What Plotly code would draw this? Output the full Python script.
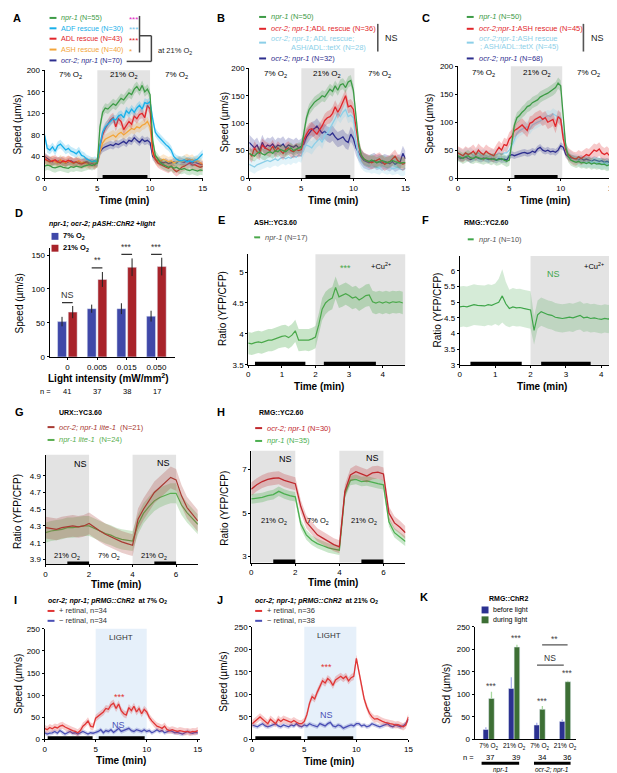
import plotly.graph_objects as go

W, H = 617, 773
FONT = "Liberation Sans, Arial, sans-serif"

# ---------------- data ----------------
t15 = [i * 0.25 for i in range(61)]      # 0..15 min
t7 = [i * 0.25 for i in range(29)]       # 0..7 min
tE = [i * 0.1 for i in range(47)]        # 0..4.6 min
tF = [i * 0.1 for i in range(44)]        # 0..4.3 min

# A
A_npr1 = [22, 24, 23, 20, 19, 21, 22, 20, 19, 18, 21, 20, 22, 21, 20, 22, 24, 25, 23, 26, 28,
          95, 122, 130, 128, 133, 138, 135, 142, 148, 145, 152, 158, 155, 165, 170, 162, 172, 160, 165, 155,
          70, 42, 35, 28, 25, 22, 20, 22, 18, 20, 17, 16, 18, 15, 14, 16, 14, 13, 15, 14]
A_adf = [79, 55, 52, 58, 50, 60, 63, 58, 52, 55, 50, 48, 45, 50, 42, 40, 35, 33, 30, 32, 30,
         60, 85, 95, 100, 105, 110, 108, 115, 118, 112, 125, 120, 128, 122, 130, 135, 128, 140, 138, 142,
         110, 85, 78, 72, 68, 62, 58, 52, 40, 35, 33, 32, 34, 30, 32, 30, 33, 35, 40, 45]
A_adl = [35, 33, 30, 32, 34, 30, 28, 32, 30, 33, 31, 28, 30, 27, 26, 28, 30, 25, 27, 24, 30,
         60, 80, 92, 100, 108, 112, 95, 110, 105, 90, 98, 105, 100, 115, 110, 118, 120, 112, 135, 128,
         50, 35, 28, 25, 22, 20, 18, 22, 16, 12, 15, 20, 22, 25, 28, 24, 25, 22, 20, 22]
A_ash = [38, 32, 30, 33, 30, 28, 34, 30, 28, 32, 30, 27, 30, 32, 28, 30, 26, 28, 30, 27, 28,
         48, 65, 72, 75, 78, 80, 76, 82, 85, 80, 84, 88, 92, 90, 95, 93, 98, 100, 105, 95,
         45, 35, 30, 32, 35, 33, 30, 32, 28, 30, 32, 30, 34, 36, 33, 35, 30, 32, 28, 25]
A_ocr2 = [40, 36, 33, 30, 32, 31, 33, 30, 28, 30, 32, 29, 30, 31, 28, 29, 30, 28, 29, 27, 28,
          48, 55, 58, 60, 62, 60, 64, 62, 65, 68, 64, 70, 68, 75, 70, 66, 72, 68, 70, 66,
          40, 35, 32, 30, 28, 30, 27, 28, 30, 28, 32, 30, 29, 32, 30, 28, 30, 27, 26, 25]
A_sem = [9, 8, 9, 9, 7]

# B
B_npr1 = [45, 42, 40, 45, 48, 44, 42, 46, 48, 45, 50, 48, 52, 50, 48, 52, 55, 50, 52, 55, 55,
          80, 110, 125, 132, 138, 142, 145, 150, 148, 155, 162, 158, 168, 160, 170, 172, 165, 175, 178, 160,
          110, 65, 42, 35, 32, 30, 33, 30, 28, 30, 32, 30, 28, 30, 32, 30, 28, 27, 28, 28]
B_adl = [45, 40, 55, 48, 45, 60, 55, 52, 50, 58, 48, 55, 50, 45, 52, 55, 50, 48, 52, 50, 52,
         70, 80, 88, 90, 85, 80, 88, 95, 105, 110, 112, 118, 130, 120, 128, 138, 150, 130, 132, 125,
         90, 60, 42, 35, 32, 30, 28, 30, 32, 35, 30, 25, 28, 30, 35, 40, 32, 28, 25, 28]
B_tetx = [25, 22, 20, 24, 26, 28, 30, 32, 30, 33, 35, 32, 36, 38, 35, 38, 36, 40, 38, 42, 40,
          55, 60, 58, 55, 62, 68, 72, 65, 78, 82, 90, 100, 108, 118, 112, 120, 125, 112, 115, 110,
          65, 40, 30, 25, 22, 22, 20, 21, 20, 18, 22, 20, 18, 20, 17, 18, 20, 16, 15, 18]
B_ocr2 = [65, 60, 55, 60, 50, 65, 55, 60, 58, 62, 55, 60, 58, 62, 55, 60, 58, 56, 60, 55, 58,
          62, 75, 82, 88, 90, 95, 88, 82, 85, 80, 78, 82, 75, 70, 72, 75, 68, 65, 80, 72,
          55, 45, 38, 32, 30, 28, 30, 32, 28, 30, 27, 30, 28, 26, 30, 25, 28, 30, 45, 35]
B_sem = [10, 12, 12, 14]

# C
C_npr1 = [40, 38, 35, 38, 40, 36, 35, 38, 36, 35, 34, 36, 35, 33, 35, 32, 33, 35, 32, 30, 32,
          60, 95, 108, 112, 118, 122, 128, 130, 135, 138, 140, 145, 148, 150, 152, 155, 158, 162, 170, 165,
          110, 55, 38, 32, 30, 28, 30, 27, 28, 26, 28, 25, 27, 25, 26, 24, 25, 22, 24, 22]
C_ash = [45, 42, 40, 45, 42, 44, 48, 42, 50, 45, 42, 48, 44, 42, 40, 48, 55, 50, 60, 58, 70,
         75, 85, 88, 92, 95, 90, 85, 98, 100, 105, 108, 110, 105, 108, 100, 102, 105, 92, 110, 105,
         70, 50, 42, 38, 35, 34, 38, 35, 38, 42, 40, 45, 50, 48, 52, 45, 42, 45, 40, 38]
C_tetx = [45, 42, 40, 45, 42, 45, 40, 42, 45, 40, 42, 40, 38, 42, 40, 42, 45, 42, 45, 45, 50,
          58, 70, 80, 85, 88, 90, 92, 88, 95, 98, 100, 102, 105, 108, 112, 110, 115, 112, 110, 108,
          80, 55, 42, 38, 35, 33, 32, 30, 30, 28, 30, 28, 27, 28, 26, 25, 27, 25, 24, 25]
C_ocr2 = [38, 35, 36, 38, 35, 33, 35, 38, 35, 34, 36, 35, 33, 35, 34, 32, 35, 33, 34, 32, 40,
          42, 40, 42, 44, 45, 46, 44, 45, 48, 46, 52, 55, 50, 48, 50, 47, 48, 46, 50, 58,
          55, 42, 38, 36, 35, 34, 33, 35, 32, 34, 32, 30, 33, 32, 30, 31, 28, 30, 28, 26]
C_sem = [10, 12, 10, 6]

# D
D_cats = ["0", "0.005", "0.015", "0.050"]
D_n = [41, 37, 38, 17]
D_low = [52, 71, 71, 60]
D_high = [66, 114, 132, 133]
D_low_err = [7, 6, 8, 8]
D_high_err = [9, 11, 13, 13]

# E
E_npr1 = [3.85, 3.84, 3.86, 3.87, 3.86, 3.88, 3.90, 3.90, 3.92, 3.95,
          3.96, 3.97, 3.94, 3.98, 4.05, 3.90, 3.90, 3.91, 3.90, 3.92,
          3.95, 4.15, 4.40, 4.50, 4.55, 4.58, 4.75, 4.60, 4.62, 4.65,
          4.62, 4.58, 4.60, 4.55, 4.58, 4.62, 4.63, 4.52, 4.50, 4.52,
          4.50, 4.52, 4.50, 4.52, 4.51, 4.52, 4.50]
E_sem = 0.18

# F
F_npr1 = [4.85, 4.87, 4.85, 4.88, 4.92, 4.90, 4.90, 4.88, 4.92, 4.90,
          4.95, 5.00, 5.20, 4.95, 4.80, 4.85, 4.82, 4.83, 4.80, 4.78,
          4.75, 4.10, 4.60, 4.70, 4.65, 4.60, 4.58, 4.52, 4.50, 4.48,
          4.50, 4.52, 4.50, 4.55, 4.58, 4.50, 4.52, 4.48, 4.50, 4.47,
          4.45, 4.48, 4.46, 4.52]
F_sem = [0.65, 0.65, 0.65, 0.65, 0.65, 0.65, 0.65, 0.65, 0.65, 0.65,
         0.65, 0.75, 0.85, 0.70, 0.60, 0.60, 0.60, 0.60, 0.60, 0.60,
         0.60, 0.45, 0.45, 0.45, 0.45, 0.45, 0.45, 0.45, 0.45, 0.45,
         0.45, 0.45, 0.45, 0.45, 0.45, 0.45, 0.45, 0.45, 0.45, 0.45,
         0.45, 0.45, 0.45, 0.45]

# G
G_dbl = [4.28, 4.27, 4.26, 4.28, 4.29, 4.30, 4.29, 4.30, 4.33, 4.28, 4.24, 4.20, 4.17, 4.14, 4.11, 4.09, 4.07,
         4.38, 4.50, 4.60, 4.70, 4.76, 4.82, 4.88, 4.85, 4.66, 4.52, 4.44, 4.36]
G_npr1 = [4.22, 4.24, 4.25, 4.26, 4.28, 4.28, 4.29, 4.30, 4.30, 4.27, 4.24, 4.21, 4.19, 4.16, 4.14, 4.13, 4.12,
          4.32, 4.45, 4.53, 4.60, 4.64, 4.67, 4.69, 4.69, 4.55, 4.46, 4.39, 4.32]
G_sem = [0.13, 0.12]

# H
H_ocr2 = [6.10, 6.30, 6.45, 6.55, 6.60, 6.62, 6.50, 6.42, 6.35, 5.30, 4.60, 4.30, 4.00, 3.85, 3.70, 3.55, 3.45,
          6.00, 6.75, 6.90, 6.80, 6.70, 6.85, 6.88, 6.80, 5.00, 4.55, 4.35, 4.10]
H_npr1 = [5.65, 5.68, 5.72, 5.80, 5.85, 6.00, 5.88, 5.80, 5.75, 4.50, 4.00, 3.75, 3.60, 3.50, 3.40, 3.35, 3.30,
          5.90, 6.50, 6.55, 6.45, 6.48, 6.40, 6.35, 6.30, 4.60, 4.10, 3.90, 3.70]
H_sem = [0.3, 0.22]

# I
I_plus = [25, 22, 27, 24, 28, 26, 30, 32, 28, 25, 22, 20, 18, 15, 20, 30, 35, 42, 30, 28, 48,
          52, 58, 62, 70, 68, 78, 82, 70, 80, 65, 58, 55, 72, 65, 75, 62, 70, 58, 68, 62,
          50, 42, 35, 30, 28, 25, 30, 22, 20, 22, 20, 18, 20, 18, 17, 18, 16, 18, 17, 20]
I_minus = [15, 12, 14, 15, 18, 14, 20, 15, 12, 15, 18, 14, 15, 12, 15, 18, 15, 12, 15, 14, 16,
           18, 22, 15, 20, 18, 22, 16, 20, 25, 18, 20, 22, 25, 20, 18, 22, 20, 18, 22, 18,
           20, 15, 18, 22, 18, 20, 15, 18, 20, 18, 15, 16, 14, 12, 15, 18, 15, 14, 16, 15]

# J
J_plus = [35, 40, 45, 50, 45, 40, 35, 45, 40, 35, 45, 40, 45, 42, 40, 38, 42, 38, 35, 35, 40,
          55, 80, 95, 90, 105, 118, 130, 125, 135, 130, 120, 132, 136, 140, 135, 140, 130, 137, 140, 180,
          150, 115, 90, 72, 58, 50, 45, 46, 42, 40, 38, 36, 35, 34, 32, 33, 30, 28, 32, 50]
J_minus = [32, 30, 28, 32, 35, 30, 28, 30, 32, 35, 30, 28, 32, 30, 28, 32, 30, 35, 30, 28, 32,
           30, 35, 32, 30, 28, 35, 32, 30, 35, 38, 30, 28, 32, 30, 25, 28, 30, 32, 30, 35,
           35, 30, 32, 28, 30, 35, 32, 30, 28, 30, 32, 35, 30, 28, 32, 30, 28, 30, 35, 45]
IJ_sem = [8, 5]

# K
K_groups = ["7% O<sub>2</sub>", "21% O<sub>2</sub>", "7% O<sub>2</sub>", "21% O<sub>2</sub>"]
K_n = [37, 39, 34, 36]
K_before = [22, 113, 32, 40]
K_during = [91, 205, 67, 128]
K_before_err = [5, 25, 5, 4]
K_during_err = [15, 5, 7, 2]

for s in (A_npr1, A_adf, A_adl, A_ash, A_ocr2, B_npr1, B_adl, B_tetx, B_ocr2,
          C_npr1, C_ash, C_tetx, C_ocr2, I_plus, I_minus, J_plus, J_minus):
    assert len(s) == 61
assert len(E_npr1) == 47 and len(F_npr1) == 44 and len(F_sem) == 44
assert len(G_dbl) == len(G_npr1) == len(H_ocr2) == len(H_npr1) == 29

# ---------------- colours ----------------
GREEN = "#3d9b46"
CYAN = "#18b0ea"
RED = "#e1262b"
ORANGE = "#f3a53a"
NAVY = "#2d2e8e"
LBLUE = "#8ccfe8"
GRAY_BG = "#e3e3e3"
LIGHT_BG = "#e6f0fa"


def rgba(h, a):
    h = h.lstrip("#")
    return f"rgba({int(h[0:2], 16)},{int(h[2:4], 16)},{int(h[4:6], 16)},{a})"


fig = go.Figure()
shapes, annots = [], []


def refs(k):
    return ("x", "y") if k == 1 else (f"x{k}", f"y{k}")


def axes(k, xd, yd, xr, yr, xt, yt, xtext=None):
    sx = "" if k == 1 else str(k)
    base = dict(showline=True, linecolor="black", linewidth=1, ticks="outside", ticklen=2,
                tickcolor="black", showgrid=False, zeroline=False,
                tickfont=dict(size=8, color="black", family=FONT))
    fig.layout["xaxis" + sx] = dict(base, domain=[xd[0] / W, xd[1] / W], range=xr, tickvals=xt,
                                     ticktext=xtext, anchor="y" + sx)
    fig.layout["yaxis" + sx] = dict(base, domain=[1 - yd[1] / H, 1 - yd[0] / H], range=yr,
                                     tickvals=yt, anchor="x" + sx)


def trace(k, x, y, color, sem, width=1.3, alpha=0.25):
    xr, yr = refs(k)
    s = sem if isinstance(sem, list) else [sem] * len(y)
    up = [a + b for a, b in zip(y, s)]
    lo = [a - b for a, b in zip(y, s)]
    fig.add_trace(go.Scatter(x=list(x) + list(x)[::-1], y=up + lo[::-1], fill="toself",
                             fillcolor=rgba(color, alpha), line=dict(width=0), mode="lines",
                             hoverinfo="skip", showlegend=False, xaxis=xr, yaxis=yr))
    fig.add_trace(go.Scatter(x=x, y=y, mode="lines", line=dict(color=color, width=width),
                             showlegend=False, xaxis=xr, yaxis=yr))


def region(k, x0, x1, color=GRAY_BG):
    xr, yr = refs(k)
    shapes.append(dict(type="rect", xref=xr, yref=yr + " domain", x0=x0, x1=x1, y0=0, y1=1,
                       fillcolor=color, line_width=0, layer="below"))


def blackbar(k, x0, x1):
    xr, yr = refs(k)
    shapes.append(dict(type="line", xref=xr, yref=yr + " domain", x0=x0, x1=x1, y0=0.012, y1=0.012,
                       line=dict(color="black", width=3.5), layer="above"))


def dline(k, x0, x1, y0, y1, color="#444", width=1.2):
    xr, yr = refs(k)
    shapes.append(dict(type="line", xref=xr, yref=yr, x0=x0, x1=x1, y0=y0, y1=y1,
                       line=dict(color=color, width=width)))


def pline(x0, y0, x1, y1, color="#444", width=1.5):
    shapes.append(dict(type="line", xref="paper", yref="paper", x0=x0 / W, x1=x1 / W,
                       y0=1 - y0 / H, y1=1 - y1 / H, line=dict(color=color, width=width)))


def ptxt(x, y, text, size=7.5, color="black", xanchor="left", angle=0):
    annots.append(dict(x=x / W, y=1 - y / H, xref="paper", yref="paper", text=text, showarrow=False,
                       xanchor=xanchor, yanchor="middle", textangle=angle,
                       font=dict(size=size, color=color, family=FONT)))


def dtxt(k, x, y, text, size=8, color="black", yanchor="middle"):
    xr, yr = refs(k)
    annots.append(dict(x=x, y=y, xref=xr, yref=yr, text=text, showarrow=False,
                       xanchor="center", yanchor=yanchor, font=dict(size=size, color=color, family=FONT)))


def leg(x, y, color, text, tcolor=None, seg=7, lw=2, size=7.5):
    pline(x, y, x + seg, y, color, lw)
    ptxt(x + seg + 3, y, text, size, tcolor or color)


def square(x, y, color, text, size=7.5):
    shapes.append(dict(type="rect", xref="paper", yref="paper", x0=x / W, x1=(x + 7) / W,
                       y0=1 - (y + 3.5) / H, y1=1 - (y - 3.5) / H, fillcolor=color, line_width=0))
    ptxt(x + 10, y, text, size)


def ytitle(x, y, text):
    ptxt(x, y, text, 10, xanchor="center", angle=-90)


def xtitle(x, y, text, size=10):
    ptxt(x, y, "<b>" + text + "</b>", size, xanchor="center")


O2 = "O<sub>2</sub>"

# ---------------- A ----------------
axes(1, (35, 195), (59, 168), [0, 15], [0, 200], [0, 5, 10, 15], [0, 40, 80, 120, 160, 200])
region(1, 5, 10)
for ser, col, s in zip([A_ocr2, A_ash, A_adl, A_adf, A_npr1], [NAVY, ORANGE, RED, CYAN, GREEN],
                       [A_sem[4], A_sem[3], A_sem[2], A_sem[1], A_sem[0]]):
    trace(1, t15, ser, col, s)
blackbar(1, 5.5, 9.75)
for xx, lab in [(2.5, "7% " + O2), (7.5, "21% " + O2), (12.5, "7% " + O2)]:
    dtxt(1, xx, 191, lab, 8)
rows = [6, 16.5, 27, 38, 49]
A_leg = [("<i>npr-1</i> (N=55)", GREEN), ("ADF rescue (N=30)", CYAN), ("ADL rescue (N=43)", RED),
         ("ASH rescue (N=40)", ORANGE), ("<i>ocr-2; npr-1</i> (N=70)", NAVY)]
for r, (tx, col) in zip(rows, A_leg):
    leg(40, r, col, tx, size=7.2)
for r, st, col in zip(rows, ["***", "***", "***", "*"], ["#e01fc4", "#6fc3ea", RED, ORANGE]):
    ptxt(118, r + 1.5, st, 8, col)
pline(131, 4, 131, 41)
pline(131, 24, 143, 24)
pline(143, 24, 143, 50)
pline(118, 50, 143, 50)
ptxt(148, 39, "at 21% " + O2, 7.5, "#222")
ytitle(8, 114, "Speed (µm/s)")
xtitle(115, 191, "Time (min)")
ptxt(1, 6, "<b>A</b>", 11)

# ---------------- B ----------------
axes(2, (242, 400), (57, 168), [0, 15], [0, 200], [0, 5, 10, 15], [0, 50, 100, 150, 200])
region(2, 5, 10.1)
for ser, col, s in zip([B_ocr2, B_tetx, B_adl, B_npr1], [NAVY, LBLUE, RED, GREEN],
                       [B_sem[3], B_sem[2], B_sem[1], B_sem[0]]):
    trace(2, t15, ser, col, s)
blackbar(2, 5.4, 9.7)
for xx, lab in [(2.5, "7% " + O2), (7.5, "21% " + O2), (12.5, "7% " + O2)]:
    dtxt(2, xx, 190, lab, 8)
leg(252, 5, GREEN, "<i>npr-1</i> (N=50)")
leg(252, 17, RED, "<i>ocr-2; npr-1;</i>ADL rescue (N=36)")
pline(252, 31, 259, 31, LBLUE, 2)
ptxt(262, 27, "<i>ocr-2; npr-1;</i> ADL rescue;", 7.5, LBLUE)
ptxt(282, 36, "ASH/ADL::tetX (N=28)", 7.5, LBLUE)
leg(252, 47, NAVY, "<i>ocr-2; npr-1</i> (N=32)")
pline(372, 12, 372, 40, "#555", 1.6)
ptxt(377, 26, "NS", 9, "#222")
ytitle(217, 112, "Speed (µm/s)")
xtitle(327, 191, "Time (min)")
ptxt(207, 6, "<b>B</b>", 11)

# ---------------- C ----------------
axes(3, (453, 609), (55, 168), [0, 15], [0, 200], [0, 5, 10, 15], [0, 50, 100, 150, 200])
region(3, 5.15, 10.15)
for ser, col, s in zip([C_ocr2, C_tetx, C_ash, C_npr1], [NAVY, LBLUE, RED, GREEN],
                       [C_sem[3], C_sem[2], C_sem[1], C_sem[0]]):
    trace(3, t15, ser, col, s)
blackbar(3, 5.5, 9.7)
for xx, lab in [(2.5, "7% " + O2), (7.7, "21% " + O2), (12.7, "7% " + O2)]:
    dtxt(3, xx, 188, lab, 8)
leg(462, 5, GREEN, "<i>npr-1</i> (N=50)")
leg(462, 17, RED, "<i>ocr-2;npr-1</i>:ASH rescue (N=45)")
pline(462, 31, 469, 31, LBLUE, 2)
ptxt(472, 27, "<i>ocr-2;npr-1</i>:ASH rescue", 7.5, LBLUE)
ptxt(473, 35, "; ASH/ADL::tetX (N=45)", 7.5, LBLUE)
leg(462, 47, NAVY, "<i>ocr-2; npr-1</i> (N=68)")
pline(580, 12, 580, 40, "#555", 1.6)
ptxt(586, 26, "NS", 9, "#222")
ytitle(425, 113, "Speed (µm/s)")
xtitle(541, 191, "Time (min)")
ptxt(415, 6, "<b>C</b>", 11)

# ---------------- D ----------------
D_x = list(range(len(D_cats)))
axes(4, (40, 167), (239, 349), [-0.6, 3.63], [0, 160], D_x, [0, 50, 100, 150], D_cats)
fig.add_trace(go.Bar(x=D_x, y=D_low, width=0.3, offset=-0.33, marker_color="#3f48a8",
                     error_y=dict(type="data", array=D_low_err, color="#222", thickness=1, width=0),
                     showlegend=False, xaxis="x4", yaxis="y4"))
fig.add_trace(go.Bar(x=D_x, y=D_high, width=0.3, offset=0.03, marker_color="#a8232a",
                     error_y=dict(type="data", array=D_high_err, color="#222", thickness=1, width=0),
                     showlegend=False, xaxis="x4", yaxis="y4"))
for i, ly, st in [(0, 80, "NS"), (1, 131, "**"), (2, 151, "***"), (3, 151, "***")]:
    dline(4, i - 0.18, i + 0.18, ly, ly, "#333", 1.3)
    dtxt(4, i, ly + 1, st, 9 if st == "NS" else 8.5, "#333", "bottom")
ptxt(37, 214, "<b><i>npr-1; ocr-2; pASH::ChR2 +light</i></b>", 7)
square(42, 227, "#3f48a8", "<b>7% " + O2 + "</b>", 7.5)
square(42, 239, "#a8232a", "<b>21% " + O2 + "</b>", 7.5)
ytitle(10, 295, "Speed (µm/s)")
xtitle(100, 370, "Light intensity (mW/mm<sup>2</sup>)")
ptxt(28, 384, "n = ", 7.5)
for i, n in enumerate(D_n):
    ptxt(58 + i * 30.3, 384, str(n), 7.5, xanchor="center")
ptxt(3, 203, "<b>D</b>", 11)

# ---------------- E ----------------
axes(5, (241, 400), (245, 357), [0, 4.68], [3.5, 5.29], [0, 1, 2, 3, 4], [3.5, 4, 4.5, 5])
region(5, 2, 4.68)
trace(5, tE, E_npr1, "#4aa84a", E_sem, 1.2, 0.3)
blackbar(5, 0.2, 1.7)
blackbar(5, 2.25, 3.8)
dtxt(5, 2.9, 5.06, "***", 9, "#4aa84a")
dtxt(5, 3.95, 5.1, "+Cu<sup>2+</sup>", 7.5)
ptxt(245, 213, "<b>ASH::YC3.60</b>", 7)
leg(247, 228, "#4aa84a", "<i>npr-1</i> (N=17)", "#555", 6)
ytitle(215, 300, "Ratio (YFP/CFP)")
xtitle(313, 379, "Time (min)")
ptxt(208, 210, "<b>E</b>", 11)

# ---------------- F ----------------
axes(6, (455, 612), (247, 357), [0, 4.39], [3, 6.47], [0, 1, 2, 3, 4], [3, 3.5, 4, 4.5, 5, 5.5, 6])
region(6, 2, 4.39)
trace(6, tF, F_npr1, "#3fa64a", F_sem, 1.2, 0.22)
blackbar(6, 0.3, 1.75)
blackbar(6, 2.3, 3.7)
dtxt(6, 2.65, 5.9, "NS", 9, "#3fa64a")
dtxt(6, 3.8, 6.15, "+Cu<sup>2+</sup>", 7.5)
ptxt(457, 213, "<b>RMG::YC2.60</b>", 7)
leg(463, 230, "#3fa64a", "<i>npr-1</i> (N=10)", "#555", 6)
ytitle(432, 302, "Ratio (YFP/CFP)")
xtitle(538, 379, "Time (min)")
ptxt(415, 210, "<b>F</b>", 11)

# ---------------- G ----------------
axes(7, (36, 190), (448, 559), [0, 7], [3.84, 5.15], [0, 2, 4, 6], [3.9, 4.1, 4.3, 4.5, 4.7, 4.9])
region(7, 0, 2)
region(7, 4, 6)
trace(7, t7, G_npr1, "#5aae50", G_sem[1], 1.2, 0.28)
trace(7, t7, G_dbl, "#a83a32", G_sem[0], 1.2, 0.25)
blackbar(7, 1, 2)
blackbar(7, 5, 6)
dtxt(7, 1.6, 5.04, "NS", 9)
dtxt(7, 5.4, 5.05, "NS", 9)
dtxt(7, 1.0, 3.94, "21% " + O2, 7.5)
dtxt(7, 2.9, 3.94, "7% " + O2, 7.5)
dtxt(7, 5.0, 3.94, "21% " + O2, 7.5)
ptxt(48, 405, "<b>URX::YC3.60</b>", 7)
leg(38, 420, "#a83a32", "<i>ocr-2; npr-1 lite-1</i>  (N=21)")
leg(38, 433, "#5aae50", "<i>npr-1 lite-1</i>  (N=24)")
ytitle(7, 505, "Ratio (YFP/CFP)")
xtitle(107, 579, "Time (min)")
ptxt(3, 405, "<b>G</b>", 11)

# ---------------- H ----------------
axes(8, (244, 400), (444, 557), [0, 7], [2.73, 7.86], [0, 2, 4, 6], [3, 5, 7])
region(8, 0, 2)
region(8, 4, 6)
trace(8, t7, H_npr1, "#4caf50", H_sem[1], 1.3, 0.3)
trace(8, t7, H_ocr2, "#c0282d", H_sem[0], 1.3, 0.25)
blackbar(8, 1, 2)
blackbar(8, 5, 6)
dtxt(8, 1.55, 7.5, "NS", 9)
dtxt(8, 5.5, 7.55, "NS", 9)
dtxt(8, 1.05, 4.65, "21% " + O2, 7.5)
dtxt(8, 3.05, 4.65, "7% " + O2, 7.5)
dtxt(8, 5.1, 4.65, "21% " + O2, 7.5)
ptxt(250, 405, "<b>RMG::YC2.60</b>", 7)
leg(248, 421, "#c0282d", "<i>ocr-2; npr-1</i> (N=30)")
leg(248, 434, "#4caf50", "<i>npr-1</i> (N=35)")
ytitle(217, 502, "Ratio (YFP/CFP)")
xtitle(327, 577, "Time (min)")
ptxt(207, 405, "<b>H</b>", 11)

# ---------------- I ----------------
IRED, IBLUE = "#e03535", "#4a4fb5"
axes(9, (35, 192), (624, 736), [0, 15.2], [0, 250], [0, 5, 10, 15], [0, 50, 100, 150, 200, 250])
region(9, 5, 10, LIGHT_BG)
trace(9, t15, I_minus, IBLUE, IJ_sem[1])
trace(9, t15, I_plus, IRED, IJ_sem[0])
blackbar(9, 0.3, 4.7)
blackbar(9, 5.3, 9.8)
dtxt(9, 7.5, 230, "LIGHT", 8, "#333")
dtxt(9, 7.3, 96, "***", 9, IRED)
dtxt(9, 7.2, 33, "NS", 9, IBLUE)
ptxt(36, 596, "<b><i>ocr-2; npr-1; pRMG::ChR2</i>  at 7% " + O2 + "</b>", 7)
leg(38, 606, IRED, "+ retinal, n=34", "#333")
leg(38, 616, IBLUE, "− retinal, n=34", "#333")
ytitle(8, 680, "Speed (µm/s)")
xtitle(112, 757, "Time (min)")
ptxt(2, 595, "<b>I</b>", 11)

# ---------------- J ----------------
axes(10, (245, 403), (622, 736), [0, 15], [0, 250], [0, 5, 10, 15], [0, 50, 100, 150, 200, 250])
region(10, 5, 10, LIGHT_BG)
trace(10, t15, J_minus, IBLUE, IJ_sem[1])
trace(10, t15, J_plus, IRED, IJ_sem[0])
blackbar(10, 0.3, 4.7)
blackbar(10, 5.3, 9.7)
dtxt(10, 7.4, 231, "LIGHT", 8, "#333")
dtxt(10, 7.1, 160, "***", 9, IRED)
dtxt(10, 7.1, 55, "NS", 9, IBLUE)
ptxt(246, 596, "<b><i>ocr-2; npr-1; pRMG::ChR2</i>  at 21% " + O2 + "</b>", 7)
leg(248, 606, IRED, "+ retinal, n=36", "#333")
leg(248, 616, IBLUE, "− retinal, n=38", "#333")
ytitle(216, 678, "Speed (µm/s)")
xtitle(323, 758, "Time (min)")
ptxt(207, 595, "<b>J</b>", 11)

# ---------------- K ----------------
K_x = list(range(len(K_groups)))
axes(11, (470, 573), (622, 736), [-0.55, 3.45], [0, 250], K_x, [0, 50, 100, 150, 200, 250], K_groups)
fig.layout["xaxis11"].tickfont = dict(size=6.5, color="black", family=FONT)
fig.layout["xaxis11"].ticks = ""
fig.add_trace(go.Bar(x=K_x, y=K_before, width=0.22, offset=-0.22, marker_color="#2b3190",
                     error_y=dict(type="data", array=K_before_err, arrayminus=[0] * 4, symmetric=False,
                                  color="#a9b0ea", thickness=1.3, width=0),
                     showlegend=False, xaxis="x11", yaxis="y11"))
fig.add_trace(go.Bar(x=K_x, y=K_during, width=0.22, offset=0.0, marker_color="#3d6f35",
                     error_y=dict(type="data", array=K_during_err, arrayminus=[0] * 4, symmetric=False,
                                  color="#a8d8a0", thickness=1.3, width=0),
                     showlegend=False, xaxis="x11", yaxis="y11"))
for i, yy in zip(K_x, [119, 226, 86, 147]):
    dtxt(11, i + 0.1, yy, "***", 8.5, "#444")
dline(11, 2.1, 3.1, 210, 210, "#555", 1.2)
dtxt(11, 2.6, 222, "**", 8.5, "#444")
dline(11, 1.9, 2.95, 165, 165, "#555", 1.2)
dtxt(11, 2.4, 180, "NS", 8.5, "#333")
ptxt(482, 593, "<b>RMG::ChR2</b>", 7)
square(477, 605, "#2b3190", "before light", 7)
square(477, 615, "#3d6f35", "during light", 7)
ytitle(442, 690, "Speed (µm/s)")
ptxt(465, 754, "n = ", 7.5, xanchor="center")
for i, n in enumerate(K_n):
    ptxt(486 + i * 25.8, 754, str(n), 7.5, xanchor="center")
pline(477, 760, 515, 760, "black", 3)
pline(530, 760, 567, 760, "black", 3)
ptxt(496, 767, "<i>npr-1</i>", 6.5, xanchor="center")
ptxt(548, 767, "<i>ocr-2; npr-1</i>", 6.5, xanchor="center")
ptxt(413, 592, "<b>K</b>", 11)

fig.update_layout(width=W, height=H, margin=dict(l=0, r=0, t=0, b=0),
                  plot_bgcolor="white", paper_bgcolor="white",
                  font=dict(family=FONT, size=8, color="black"),
                  shapes=shapes, annotations=annots, showlegend=False)

fig.write_html("out.html")
